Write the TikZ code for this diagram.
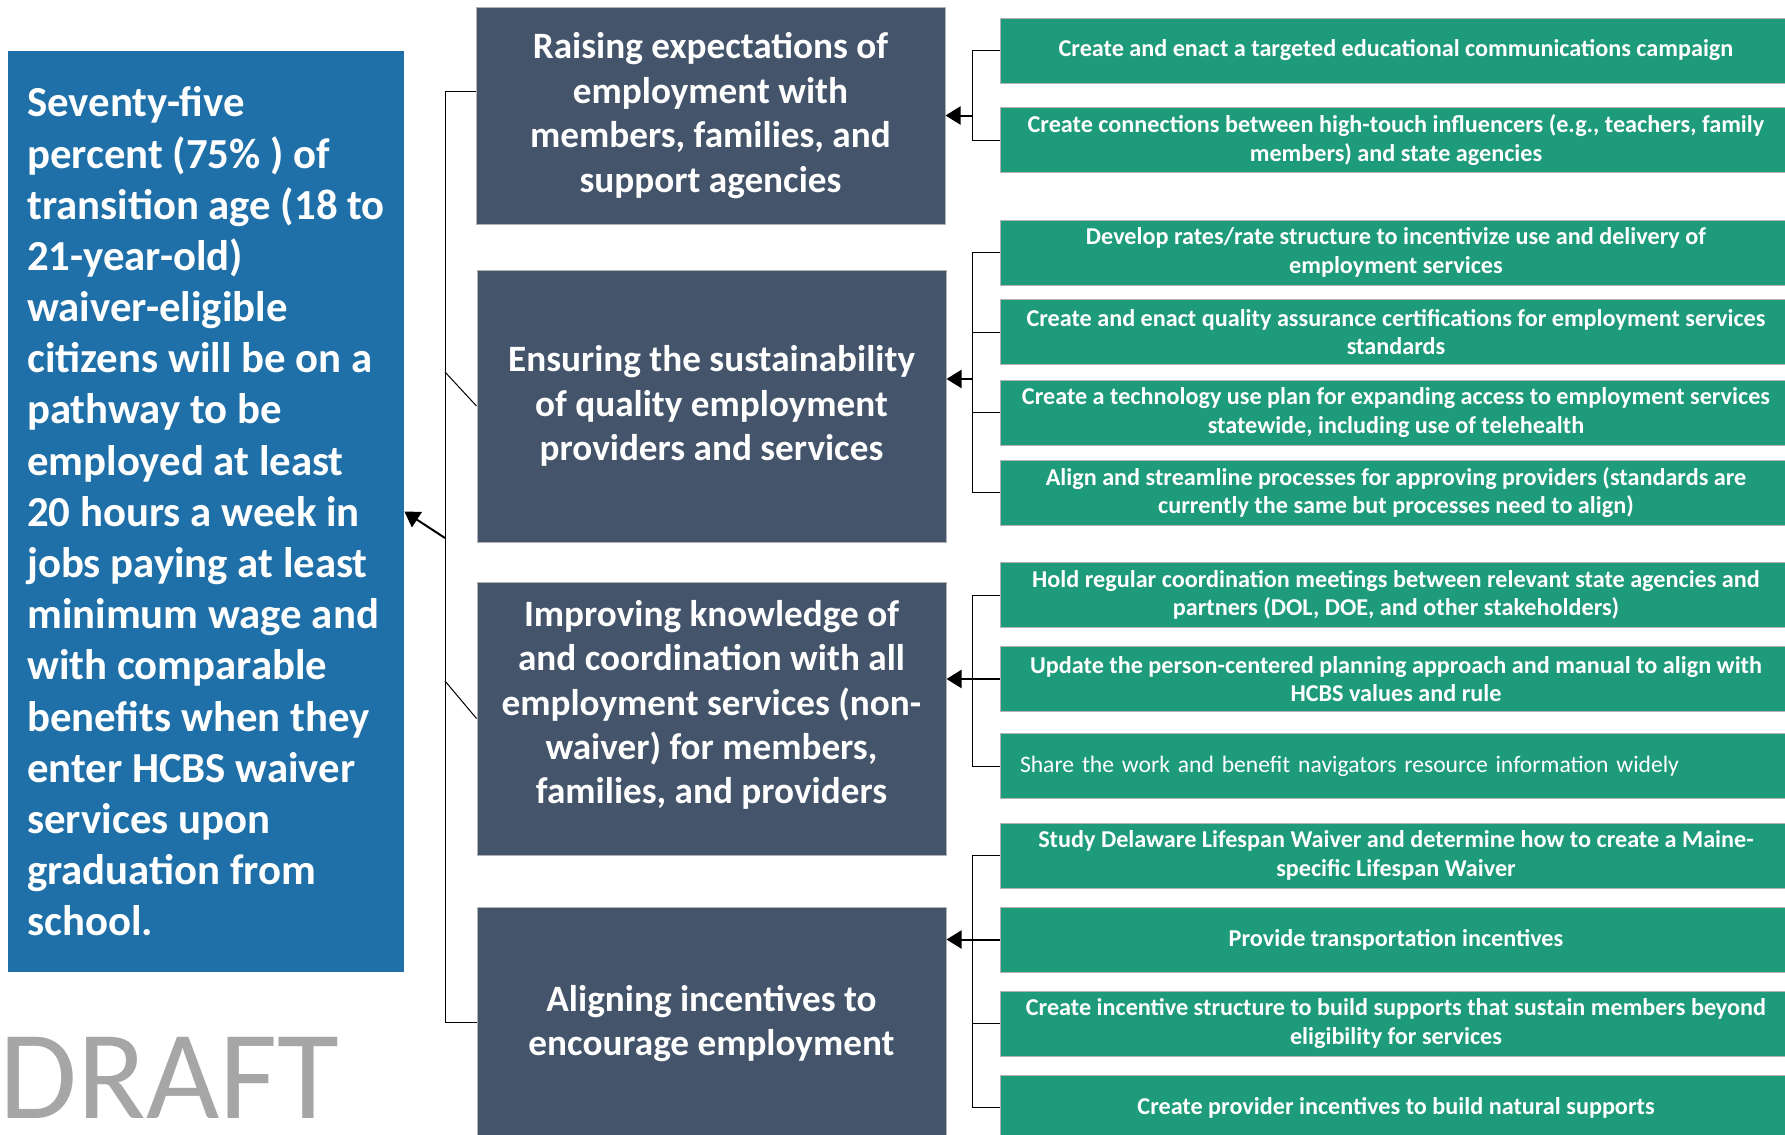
\documentclass[tikz,border=0pt]{standalone}
\usepackage{fontspec}
\setmainfont{Carlito}
\usepackage{xcolor}
\usetikzlibrary{calc}
\usetikzlibrary{arrows.meta}
\definecolor{goalblue}{RGB}{31,112,168}
\definecolor{slate}{HTML}{44546A}
\definecolor{actgreen}{RGB}{30,155,122}
\definecolor{draftgray}{HTML}{A6A6A6}
\tikzset{
    goalbox/.style={fill=goalblue,text=white,inner sep=0pt,
        minimum width=198pt,minimum height=460.5pt,align=left,
        font=\bfseries\fontsize{21.4}{25.6}\selectfont},
    aimbox/.style={fill=slate,draw=gray!60,line width=0.5pt,text=white,align=center,
        minimum width=234.5pt,inner sep=0pt,
        font=\bfseries\fontsize{18.6}{22.2}\selectfont},
    aimtext/.style={text=white,align=center,inner sep=0pt,
        font=\bfseries\fontsize{18.6}{22.2}\selectfont},
    actbox/.style={fill=actgreen,draw=gray!60,line width=0.5pt,text=white,align=center,
        minimum width=396pt,minimum height=32.5pt,inner sep=0pt,
        font=\bfseries\fontsize{12.1}{14.2}\selectfont},
    link/.style={draw=black,line width=0.5pt},
    push/.style={draw=black,line width=1pt,-{Triangle[length=7.5pt,width=9pt]}}
}
\begin{document}
\begin{tikzpicture}[x=0.5pt,y=-0.5pt]
    \useasboundingbox (0,0) rectangle (1785,1135);
    %
    \node[goalbox] (goal) at (206,511.5) {Seventy-five\\percent (75\% ) of\\transition age (18 to\\21-year-old)\\waiver-eligible\\citizens will be on a\\pathway to be\\employed at least\\20 hours a week in\\jobs paying at least\\minimum wage and\\with comparable\\benefits when they\\enter HCBS waiver\\services upon\\graduation from\\school.};
    \node[font=\fontsize{63.3}{63.3}\selectfont,text=draftgray,anchor=base west,inner sep=0pt] (draft) at (-1,1118) {DRAFT};
    %
    \node[aimbox,minimum height=108.5pt] (s1) at (710.5,115.5) {Raising expectations of\\employment with\\members, families, and\\support agencies};
    \node[aimbox,minimum height=136pt] (s2) at (711.5,406) {Ensuring the sustainability\\of quality employment\\providers and services};
    \node[aimbox,minimum height=136.5pt] (s3) at (711.5,718.5) {};
    \node[aimtext] (s3text) at (711.5,705) {Improving knowledge of\\and coordination with all\\employment services (non-\\waiver) for members,\\families, and providers};
    \node[aimbox,minimum height=116.5pt] (s4) at (711.5,1023.5) {Aligning incentives to\\encourage employment};
    %
    \node[actbox] (a1) at (1396,50.5) {Create and enact a targeted educational communications campaign};
    \node[actbox] (a2) at (1396,140) {Create connections between high-touch influencers (e.g., teachers, family\\members) and state agencies};
    \node[actbox] (a3) at (1396,252.5) {Develop rates/rate structure to incentivize use and delivery of\\employment services};
    \node[actbox] (a4) at (1396,332) {Create and enact quality assurance certifications for employment services\\standards};
    \node[actbox] (a5) at (1396,412.5) {Create a technology use plan for expanding access to employment services\\statewide, including use of telehealth};
    \node[actbox] (a6) at (1396,492.5) {Align and streamline processes for approving providers (standards are\\currently the same but processes need to align)};
    \node[actbox] (a7) at (1396,595) {Hold regular coordination meetings between relevant state agencies and\\partners (DOL, DOE, and other stakeholders)};
    \node[actbox] (a8) at (1396,679) {Update the person-centered planning approach and manual to align with\\HCBS values and rule};
    \node[actbox,align=left,text width=376pt,inner xsep=10pt,font=\fontsize{11.8}{14.2}\selectfont] (a9) at (1396,766) {Share the work and benefit navigators resource information widely};
    \node[actbox] (a10) at (1396,855.5) {Study Delaware Lifespan Waiver and determine how to create a Maine-\\specific Lifespan Waiver};
    \node[actbox] (a11) at (1396,939.5) {Provide transportation incentives};
    \node[actbox] (a12) at (1396,1023.5) {Create incentive structure to build supports that sustain members beyond\\eligibility for services};
    \node[actbox] (a13) at (1396,1107.5) {Create provider incentives to build natural supports};
    %
    \coordinate (t0) at (445,538);
    \coordinate (t1) at (445,91);
    \coordinate (t2) at (445,372);
    \coordinate (t3) at (445,681);
    \coordinate (t4) at (445,1022);
    \draw[link] (t1 -| s1.west) -- (t1) -- (t4) -- (t4 -| s4.west);
    \draw[link] (t2) -- (s2.west);
    \draw[link] (t3) -- (s3.west);
    \draw[push] (t0) -- (goal.east);
    %
    \draw[link] (a1.west) -- ++(-27,0) |- (a2.west);
    \draw[push] (s1.east -| a1.west) ++(-27,0) -- (s1.east);
    %
    \coordinate (b2) at (973,379);
    \draw[link] (a3.west) -- ++(-27,0) |- (a6.west);
    \draw[link] (a4.west) -- ++(-27,0) (a5.west) -- ++(-27,0);
    \draw[push] (b2) -- (b2 -| s2.east);
    %
    \draw[link] (a7.west) -- ++(-27,0) |- (a9.west);
    \draw[push] (a8.west) -- (a8.west -| s3.east);
    %
    \draw[link] (a10.west) -- ++(-27,0) |- (a13.west);
    \draw[link] (a12.west) -- ++(-27,0);
    \draw[push] (a11.west) -- (a11.west -| s4.east);
\end{tikzpicture}
\end{document}
